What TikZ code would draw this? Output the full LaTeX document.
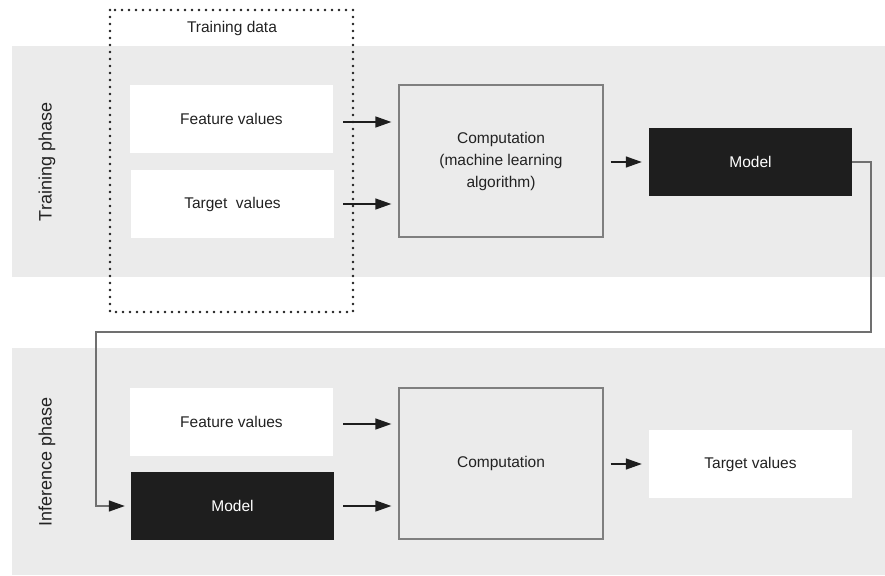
\documentclass[tikz,border=0pt]{standalone}
\usepackage{fontspec}
\setmainfont{Liberation Sans}
\usetikzlibrary{arrows.meta,calc}
\definecolor{band}{HTML}{EBEBEB}
\definecolor{ink}{HTML}{1E1E1E}
\definecolor{txt}{HTML}{222222}
\definecolor{edge}{HTML}{7F7F7F}
\definecolor{wire}{HTML}{707070}
\begin{document}
\begin{tikzpicture}[x=1pt,y=-1pt,
  lbl/.style={font=\fontsize{15.5}{22}\selectfont, text=txt},
  whitebox/.style={lbl, rectangle, fill=white, minimum width=203pt, minimum height=68pt, inner sep=0pt},
  darkbox/.style={lbl, rectangle, fill=ink, text=white, minimum width=203pt, minimum height=68pt, inner sep=0pt},
  compbox/.style={lbl, rectangle, draw=edge, fill=band, line width=1.3pt, minimum width=204pt, inner sep=0pt, align=center},
  phase/.style={font=\fontsize{18}{21}\selectfont, text=txt, rotate=90},
  flow/.style={draw=ink, line width=1.4pt, -{Triangle[length=16pt,width=11pt]}},
  conn/.style={draw=wire, line width=1.5pt, -{Triangle[length=16pt,width=11pt,fill=ink,color=ink]}},
  dotbox/.style={draw=ink, line width=2.8pt, line cap=round, dash pattern=on 0pt off 7pt}
]
\useasboundingbox (0,0) rectangle (885,575);
% bands
\fill[band] (12,46) rectangle (885,277);
\fill[band] (12,348) rectangle (885,575);
% phase labels
\node[phase] (tp) at (47,162) {Training phase};
\node[phase] (ip) at (47,462) {Inference phase};
% training data dotted box
\draw[dotbox] (110,10) rectangle (353,312);
\node[lbl] (td) at (232,28) {Training data};
% training phase
\node[whitebox] (ft) at (231.5,119) {Feature values};
\node[whitebox] (tt) at (232.5,204) {Target\ \ values};
\node[compbox, minimum height=152pt] (ct) at (501,161) {Computation\\(machine learning\\algorithm)};
\node[darkbox] (mt) at (750.5,162) {Model};
% inference phase
\node[whitebox] (fi) at (231.5,422) {Feature values};
\node[darkbox] (mi) at (232.5,506) {Model};
\node[compbox, minimum height=151pt] (ci) at (501,463.5) {Computation};
\node[whitebox] (ti) at (750.5,464) {Target values};
% arrows training
\draw[flow] ($(ft.east)+(10,3)$) -- ($(ct.west|-ft.east)+(-7,3)$);
\draw[flow] ($(tt.east)+(9,0)$) -- ($(ct.west|-tt.east)+(-7,0)$);
\draw[flow] ($(ct.east|-mt.west)+(7,0)$) -- ($(mt.west)+(-7,0)$);
% arrows inference
\draw[flow] ($(fi.east)+(10,2)$) -- ($(ci.west|-fi.east)+(-7,2)$);
\draw[flow] ($(mi.east)+(9,0)$) -- ($(ci.west|-mi.east)+(-7,0)$);
\draw[flow] ($(ci.east|-ti.west)+(7,0)$) -- ($(ti.west)+(-7,0)$);
% model connector
\coordinate (cr) at (871,332);
\coordinate (cl) at (96,332);
\draw[conn, shorten >=6pt] (mt.east) -| (cr) -- (cl) |- (mi.west);
\end{tikzpicture}
\end{document}
